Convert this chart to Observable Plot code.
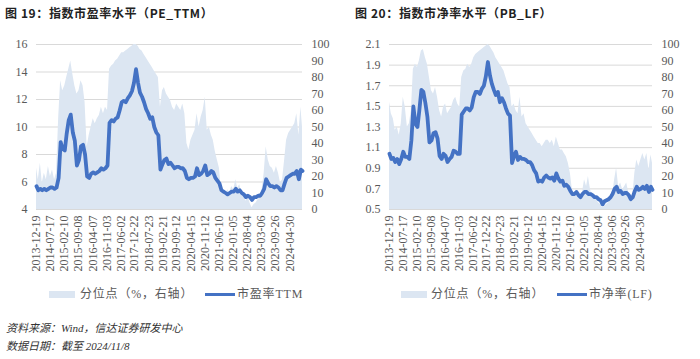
<!DOCTYPE html>
<html><head><meta charset="utf-8">
<script src="https://cdn.jsdelivr.net/npm/d3@7"></script>
<script src="https://cdn.jsdelivr.net/npm/@observablehq/plot@0.6"></script>
<style>
body{margin:0;background:#fff;}
#wrap{position:relative;width:700px;height:359px;overflow:hidden;background:#fff;}
.title{position:absolute;top:6px;font:bold 12px "Noto Sans CJK SC",sans-serif;color:#222;letter-spacing:0.6px;white-space:nowrap;line-height:14px}
.chart{position:absolute;top:30px;width:350px;height:250px}
.chart svg text{font-family:"Liberation Serif","Times New Roman",serif !important;}
.lg{position:absolute;top:287px;font:12px "Liberation Serif","Noto Sans CJK SC",serif;color:#595959;white-space:nowrap;line-height:14px;letter-spacing:0.8px}
.sw{position:absolute;}
.foot{position:absolute;left:6px;font:italic 11px "Liberation Serif","Noto Sans CJK SC",serif;color:#333;white-space:nowrap;line-height:12px}
</style></head>
<body><div id="wrap">
<div class="title" style="left:5px">图 19：指数市盈率水平（PE_TTM）</div>
<div class="title" style="left:355px">图 20：指数市净率水平（PB_LF）</div>
<div class="chart" id="c1" style="left:0"></div>
<div class="chart" id="c2" style="left:350px"></div>
<div class="sw" style="left:49px;top:291px;width:26px;height:7px;background:#dce6f2"></div>
<div class="lg" style="left:80px">分位点（%，右轴）</div>
<div class="sw" style="left:205px;top:293px;width:30px;height:3px;background:#4472c4"></div>
<div class="lg" style="left:237px">市盈率TTM</div>
<div class="sw" style="left:401px;top:291px;width:26px;height:7px;background:#dce6f2"></div>
<div class="lg" style="left:431px">分位点（%，右轴）</div>
<div class="sw" style="left:557px;top:293px;width:30px;height:3px;background:#4472c4"></div>
<div class="lg" style="left:589px">市净率(LF)</div>
<div class="foot" style="top:322px">资料来源：Wind，信达证券研发中心</div>
<div class="foot" style="top:340px">数据日期：截至 2024/11/8</div>
</div>
<script>
const dates = ["2013-12-19",
"2014-01-15","2014-02-15","2014-03-15","2014-04-15","2014-05-15","2014-06-15","2014-07-15","2014-08-15","2014-09-15","2014-10-15","2014-11-15","2014-12-15",
"2015-01-15","2015-02-15","2015-03-15","2015-04-15","2015-05-15","2015-06-15","2015-07-15","2015-08-15","2015-09-15","2015-10-15","2015-11-15","2015-12-15",
"2016-01-15","2016-02-15","2016-03-15","2016-04-15","2016-05-15","2016-06-15","2016-07-15","2016-08-15","2016-09-15","2016-10-15","2016-11-15","2016-12-15",
"2017-01-15","2017-02-15","2017-03-15","2017-04-15","2017-05-15","2017-06-15","2017-07-15","2017-08-15","2017-09-15","2017-10-15","2017-11-15","2017-12-15",
"2018-01-15","2018-02-15","2018-03-15","2018-04-15","2018-05-15","2018-06-15","2018-07-15","2018-08-15","2018-09-15","2018-10-15","2018-11-15","2018-12-15",
"2019-01-15","2019-02-15","2019-03-15","2019-04-15","2019-05-15","2019-06-15","2019-07-15","2019-08-15","2019-09-15","2019-10-15","2019-11-15","2019-12-15",
"2020-01-15","2020-02-15","2020-03-15","2020-04-15","2020-05-15","2020-06-15","2020-07-15","2020-08-15","2020-09-15","2020-10-15","2020-11-15","2020-12-15",
"2021-01-15","2021-02-15","2021-03-15","2021-04-15","2021-05-15","2021-06-15","2021-07-15","2021-08-15","2021-09-15","2021-10-15","2021-11-15","2021-12-15",
"2022-01-15","2022-02-15","2022-03-15","2022-04-15","2022-05-15","2022-06-15","2022-07-15","2022-08-15","2022-09-15","2022-10-15","2022-11-15","2022-12-15",
"2023-01-15","2023-02-15","2023-03-15","2023-04-15","2023-05-15","2023-06-15","2023-07-15","2023-08-15","2023-09-15","2023-10-15","2023-11-15","2023-12-15",
"2024-01-15","2024-02-15","2024-03-15","2024-04-15","2024-05-15","2024-06-15","2024-07-15","2024-08-15","2024-09-15","2024-10-15",
"2024-11-08"];

const xTickLabels = ["2013-12-19","2014-07-17","2015-02-10","2015-09-08","2016-04-07","2016-11-03","2017-06-02","2017-12-22","2018-07-23","2019-02-21","2019-09-12","2020-04-15","2020-11-12","2021-06-10","2022-01-05","2022-08-04","2023-03-06","2023-09-26","2024-04-30"];

const peTTM = [5.7,5.4,5.5,5.4,5.5,5.4,5.5,5.6,5.6,5.5,5.6,
6.3,8.9,8.4,8.3,9.5,10.5,10.9,9.6,9.0,7.2,
7.6,8.6,8.7,8.0,6.4,6.3,6.6,6.7,6.6,6.7,
6.8,7.0,6.9,7.0,7.2,10.3,10.5,10.4,10.6,10.7,
11.2,11.8,11.9,11.8,12.1,12.3,12.6,13.2,14.2,13.2,
12.5,12.2,11.8,11.3,11.0,10.6,10.7,10.0,9.6,9.4,
6.9,7.3,7.6,7.7,7.3,7.4,7.2,7.0,7.1,7.1,
7.0,7.0,6.8,6.3,6.2,6.3,6.3,6.4,7.0,6.5,
6.6,6.8,7.2,6.5,6.6,6.8,6.7,6.3,6.1,5.9,
5.4,5.3,5.2,5.1,5.2,5.3,5.3,5.5,5.3,5.4,
5.2,5.1,4.9,5.0,4.9,4.7,4.9,4.9,5.0,5.0,
5.2,5.5,6.2,5.9,5.7,5.7,5.6,5.7,5.6,5.4,
5.4,5.9,6.3,6.4,6.5,6.6,6.6,6.8,6.2,6.9,
6.8];

const pePct = [25,18,28,16,22,18,26,20,24,18,22,
55,78,72,75,80,85,90,82,75,70,
72,78,75,65,38,45,50,55,52,55,
57,62,58,62,60,85,87,88,90,91,
93,95,95,96,97,98,99,100,100,99,
97,96,94,92,90,88,86,84,82,80,
62,72,74,70,68,66,62,60,64,62,
60,64,58,40,36,42,45,48,58,50,
56,60,68,48,50,45,42,35,30,25,
12,10,8,12,10,14,12,18,13,15,
10,8,5,8,4,1,3,4,6,8,
12,22,38,30,26,25,22,26,22,16,
18,30,42,46,48,50,52,58,45,62,
50];

const pbLF = [1.04,0.99,1.00,0.96,0.99,0.94,0.99,1.06,1.01,1.01,0.99,
1.17,1.50,1.33,1.30,1.46,1.66,1.64,1.53,1.40,1.15,
1.17,1.24,1.25,1.19,1.02,0.99,1.04,1.02,0.96,0.99,
1.01,1.07,1.06,1.04,1.04,1.42,1.45,1.48,1.48,1.46,
1.49,1.59,1.64,1.64,1.62,1.67,1.70,1.79,1.93,1.80,
1.72,1.66,1.61,1.64,1.54,1.58,1.54,1.48,1.43,1.41,
0.95,1.02,1.06,0.98,1.01,0.99,0.99,0.98,0.96,0.96,
0.93,0.88,0.85,0.77,0.78,0.77,0.81,0.83,0.81,0.80,
0.81,0.78,0.85,0.80,0.77,0.78,0.73,0.74,0.72,0.68,
0.65,0.65,0.67,0.64,0.62,0.65,0.67,0.67,0.65,0.65,
0.64,0.62,0.62,0.60,0.59,0.55,0.58,0.59,0.60,0.62,
0.65,0.70,0.72,0.67,0.68,0.65,0.66,0.66,0.64,0.60,
0.62,0.68,0.72,0.69,0.70,0.72,0.70,0.73,0.67,0.72,
0.69];

const pbPct = [65,58,55,48,50,45,52,68,62,50,52,
60,85,88,86,90,96,97,92,88,80,
72,70,74,68,60,56,62,64,58,60,
62,66,68,64,62,80,84,85,88,86,
88,92,94,95,96,97,98,99,100,99,
97,95,92,90,88,86,84,80,76,74,
62,64,60,58,68,56,58,52,50,48,
46,44,42,40,40,38,40,42,42,40,
42,38,44,40,36,36,34,32,28,22,
12,10,12,8,6,10,18,14,20,12,
8,6,6,4,3,1,2,3,4,6,
8,18,25,14,16,12,14,16,10,6,
8,22,30,26,30,34,30,34,24,33,
28];

const peTicks = [4,6,8,10,12,14,16];
const pbTicks = [0.5,0.7,0.9,1.1,1.3,1.5,1.7,1.9,2.1];
const pctTicks = [0,10,20,30,40,50,60,70,80,90,100];

function makeChart(vals, pcts, yDomain, yTicks, fmt, marginLeft) {
  const y2 = d3.scaleLinear([0, 100], yDomain);
  const data = dates.map((d, i) => ({date: new Date(d), v: vals[i], p: y2(pcts[i])}));
  const ff = "'Liberation Serif', 'Times New Roman', serif";
  return Plot.plot({
    width: 350, height: 250,
    marginLeft, marginRight: 48, marginTop: 14, marginBottom: 71,
    style: {fontFamily: ff, fontSize: "12px", color: "#595959", background: "#fff"},
    x: {type: "utc", domain: [new Date(dates[0]), new Date(dates[dates.length - 1])]},
    y: {domain: yDomain},
    marks: [
      Plot.ruleY(yTicks, {stroke: "#d9d9d9", strokeWidth: 1}),
      Plot.areaY(data, {x: "date", y1: yDomain[0], y2: "p", fill: "#dce6f2", fillOpacity: 1}),
      Plot.lineY(data, {x: "date", y: "v", stroke: "#4472c4", strokeWidth: 3.8, strokeLinejoin: "round"}),
      Plot.axisY(yTicks, {anchor: "left", tickSize: 0, tickPadding: 9, tickFormat: fmt, fontFamily: ff, fontSize: 12}),
      Plot.axisY(pctTicks.map(y2), {anchor: "right", tickSize: 0, tickPadding: 9, tickFormat: d => String(Math.round(y2.invert(d))), fontFamily: ff, fontSize: 12}),
      Plot.axisX(xTickLabels.map(d => new Date(d)), {tickSize: 0, tickRotate: -90, tickPadding: 6, tickFormat: d3.utcFormat("%Y-%m-%d"), fontFamily: ff, fontSize: 12})
    ]
  });
}

document.getElementById("c1").append(makeChart(peTTM, pePct, [4, 16], peTicks, d => String(d), 36));
document.getElementById("c2").append(makeChart(pbLF, pbPct, [0.5, 2.1], pbTicks, d => d.toFixed(1), 39));
</script>
</body></html>
